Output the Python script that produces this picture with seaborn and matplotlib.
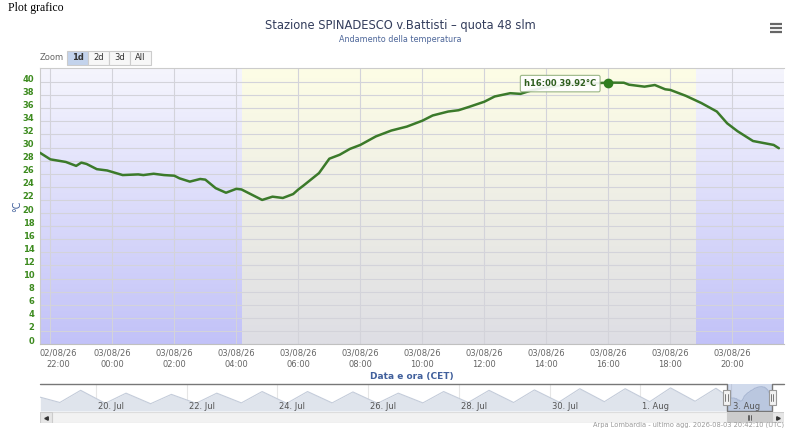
import numpy as np
import pandas as pd
import matplotlib
matplotlib.use("Agg")
import matplotlib.pyplot as plt
import matplotlib.dates as mdates
import matplotlib.colors as mcolors
import matplotlib.transforms as mtrans
from matplotlib.patches import Rectangle
from matplotlib.lines import Line2D
import seaborn as sns

# --- data (CET) ---
times = [
    "2026-08-02 21:40", "2026-08-02 22:00", "2026-08-02 22:30", "2026-08-02 22:50",
    "2026-08-02 23:00", "2026-08-02 23:10", "2026-08-02 23:30", "2026-08-02 23:50",
    "2026-08-03 00:20", "2026-08-03 00:50", "2026-08-03 01:00", "2026-08-03 01:20",
    "2026-08-03 01:40", "2026-08-03 02:00", "2026-08-03 02:10", "2026-08-03 02:30",
    "2026-08-03 02:50", "2026-08-03 03:00", "2026-08-03 03:20", "2026-08-03 03:40",
    "2026-08-03 04:00", "2026-08-03 04:10", "2026-08-03 04:30", "2026-08-03 04:50",
    "2026-08-03 05:10", "2026-08-03 05:30", "2026-08-03 05:50", "2026-08-03 06:00",
    "2026-08-03 06:10", "2026-08-03 06:40", "2026-08-03 07:00", "2026-08-03 07:20",
    "2026-08-03 07:40", "2026-08-03 08:00", "2026-08-03 08:30", "2026-08-03 09:00",
    "2026-08-03 09:30", "2026-08-03 10:00", "2026-08-03 10:20", "2026-08-03 10:50",
    "2026-08-03 11:10", "2026-08-03 11:30", "2026-08-03 12:00", "2026-08-03 12:20",
    "2026-08-03 12:50", "2026-08-03 13:10", "2026-08-03 13:30", "2026-08-03 14:00",
    "2026-08-03 14:30", "2026-08-03 15:00", "2026-08-03 15:30", "2026-08-03 16:00",
    "2026-08-03 16:30", "2026-08-03 16:40", "2026-08-03 17:10", "2026-08-03 17:30",
    "2026-08-03 17:50", "2026-08-03 18:00", "2026-08-03 18:30", "2026-08-03 19:00",
    "2026-08-03 19:30", "2026-08-03 19:50", "2026-08-03 20:10", "2026-08-03 20:40",
    "2026-08-03 21:00", "2026-08-03 21:20", "2026-08-03 21:30",
]
temps = [
    29.2, 28.2, 27.8, 27.2,
    27.7, 27.5, 26.7, 26.5,
    25.8, 25.9, 25.8, 26.0,
    25.8, 25.7, 25.3, 24.8,
    25.2, 25.1, 23.8, 23.1,
    23.7, 23.6, 22.8, 22.0,
    22.5, 22.3, 22.9, 23.6,
    24.2, 26.1, 28.3, 28.9,
    29.8, 30.4, 31.7, 32.6,
    33.2, 34.1, 34.9, 35.5,
    35.7, 36.2, 37.0, 37.8,
    38.3, 38.2, 38.7, 39.2,
    39.5, 39.7, 39.8, 39.92,
    39.9, 39.6, 39.3, 39.55,
    38.9, 38.8, 37.9, 36.8,
    35.5, 33.7, 32.5, 31.0,
    30.7, 30.4, 29.9,
]

# day / night background bands
band_start = ["2026-08-02 21:40", "2026-08-03 04:10", "2026-08-03 18:50"]
band_end = ["2026-08-03 04:10", "2026-08-03 18:50", "2026-08-03 21:40"]
band_kind = ["night", "day", "night"]

# navigator: daily minimum (05:00) and maximum (16:00) of the previous days
nav_start = ("2026-07-18 18:40", 27.0)
nav_days = pd.date_range("2026-07-19", "2026-08-02", freq="D")
nav_min = [20.5, 19.5, 19.0, 19.5, 20.0, 19.5, 20.0, 19.5, 20.0, 20.5, 20.5, 21.0, 21.5, 21.5, 22.0]
nav_max = [35.5, 32.0, 30.5, 32.0, 34.0, 34.0, 33.5, 32.0, 34.0, 35.5, 36.0, 37.5, 37.5, 38.5, 38.0]

title = "Stazione SPINADESCO v.Battisti \u2013 quota 48 slm"
subtitle = "Andamento della temperatura"
credit = "Arpa Lombardia - ultimo agg. 2026-08-03 20:42:10 (UTC)"
zoom_buttons = ["1d", "2d", "3d", "All"]

t = pd.to_datetime(times)
x0, x1 = pd.Timestamp("2026-08-02 21:40"), pd.Timestamp("2026-08-03 21:40")
nav_x0, nav_x1 = pd.Timestamp("2026-07-18 18:30"), pd.Timestamp("2026-08-04 04:00")
YTOP = 42.15

sns.set_style("white")
plt.rcParams["font.family"] = ["DejaVu Sans"]

W, H = 800, 428
fig = plt.figure(figsize=(W / 100, H / 100), dpi=100)


def fx(px):
    return px / W


def fy(py):
    return 1 - py / H


# --- main chart ---
ax = fig.add_axes([fx(40), fy(344), 744 / W, 276 / H])

colors = {"night": ("#f5f5fd", "#c2c2f8"), "day": ("#fdfde6", "#dedee4")}
for s, e, k in zip(band_start, band_end, band_kind):
    c0 = np.array(mcolors.to_rgb(colors[k][0]))
    c1 = np.array(mcolors.to_rgb(colors[k][1]))
    f = np.linspace(0, 1, 128)[:, None]
    img = (c0 * (1 - f) + c1 * f)[:, None, :]
    ax.imshow(img, extent=[mdates.date2num(pd.Timestamp(s)), mdates.date2num(pd.Timestamp(e)), 0, YTOP],
              aspect="auto", origin="upper", zorder=0, interpolation="bilinear")

sns.lineplot(x=t, y=temps, ax=ax, color="#3b7a2a", linewidth=1.8, zorder=3)

ipk = int(np.argmax(temps))
ax.plot(t[ipk], temps[ipk], "o", color="#2f7d1f", ms=6, zorder=5)
ax.annotate(f"h{t[ipk]:%H:%M} {temps[ipk]:.2f}\u00b0C", xy=(t[ipk], temps[ipk]),
            xytext=(-12, -1), textcoords="offset pixels", ha="right", va="center",
            fontsize=6, fontweight="bold", color="#2e5e1e", zorder=6,
            bbox=dict(boxstyle="round,pad=0.45,rounding_size=0.2", fc="white", ec="#8fae7a", lw=0.8, alpha=0.9))

ax.set_xlim(x0, x1)
ax.set_ylim(0, YTOP)
ax.set_yticks(range(0, 41, 2))
ax.set_xticks(pd.date_range("2026-08-02 22:00", "2026-08-03 20:00", freq="2h"))
ax.xaxis.set_major_formatter(mdates.DateFormatter("%d/%m/%y\n%H:%M"))
ax.grid(True, color="#d3d3da", lw=0.8)
ax.set_axisbelow(True)
ax.tick_params(axis="y", length=0, pad=4, labelsize=6, labelcolor="#3d8b1f")
ax.tick_params(axis="x", length=0, pad=3, labelsize=6, labelcolor="#666666")
for lab in ax.get_yticklabels():
    lab.set_fontweight("bold")
    lab.set_transform(lab.get_transform() + mtrans.ScaledTranslation(0, 0.04, fig.dpi_scale_trans))
for lab in ax.get_xticklabels():
    lab.set_linespacing(1.4)
first = ax.get_xticklabels()[0]
first.set_transform(first.get_transform() + mtrans.ScaledTranslation(0.08, 0, fig.dpi_scale_trans))

ax.spines["right"].set_visible(False)
for side in ["top", "left", "bottom"]:
    ax.spines[side].set_color("#cccccc")
    ax.spines[side].set_linewidth(0.8)
ax.spines["bottom"].set_color("#c0c0c0")

ax.set_xlabel("Data e ora (CET)", fontsize=6.5, fontweight="bold", color="#41609c", labelpad=2)
ax.set_ylabel("\u00b0C", fontsize=7, color="#41609c")
ax.yaxis.set_label_coords((22 - 40) / 744, 0.5)

# --- header ---
fig.text(fx(8), fy(8), "Plot grafico", family="Liberation Serif", fontsize=8.5, va="center", ha="left", color="black")
fig.text(0.5, fy(26), title, ha="center", va="center", fontsize=8.3, color="#333d5c")
fig.text(0.5, fy(39), subtitle, ha="center", va="center", fontsize=5.8, color="#4d6699")
for yy in [23.5, 27.5, 31.5]:
    fig.add_artist(Line2D([fx(770), fx(782)], [fy(yy), fy(yy)], color="#666666", lw=1.6,
                          transform=fig.transFigure, solid_capstyle="butt"))

fig.text(fx(40), fy(58), "Zoom", ha="left", va="center", fontsize=6, color="#666666")
bx = 67
for i, lab in enumerate(zoom_buttons):
    fig.add_artist(Rectangle((fx(bx + 21 * i), fy(65)), 21 / W, 14 / H, transform=fig.transFigure,
                             fc="#c3d3ec" if i == 0 else "#f7f7f7", ec="#cccccc", lw=0.8))
    fig.text(fx(bx + 21 * i + 10.5), fy(58), lab, ha="center", va="center", fontsize=6,
             color="#333333", fontweight="bold" if i == 0 else "normal")

# --- navigator ---
nav_t = [pd.Timestamp(nav_start[0])]
nav_v = [nav_start[1]]
for d, lo, hi in zip(nav_days, nav_min, nav_max):
    nav_t += [d + pd.Timedelta(hours=5), d + pd.Timedelta(hours=16)]
    nav_v += [lo, hi]
nav_t += list(t)
nav_v += list(temps)
nav_t = pd.to_datetime(nav_t)

nav = fig.add_axes([fx(40), fy(411), 744 / W, 27 / H])
nav.set_xlim(nav_x0, nav_x1)
nav.set_ylim(10, 43.3)
nav.set_xticks([])
nav.set_yticks([])
for s in nav.spines.values():
    s.set_visible(False)
nav_ticks = pd.date_range("2026-07-20", "2026-08-03", freq="2D")
trans_nav = mtrans.blended_transform_factory(nav.transData, nav.transAxes)
for d in nav_ticks:
    nav.axvline(d, color="#e6e6e6", lw=0.8, zorder=0)
nav.fill_between(nav_t, nav_v, 10, color="#dfe4ec", lw=0, zorder=1)
sns.lineplot(x=nav_t, y=nav_v, ax=nav, color="#c4ccda", linewidth=0.8, zorder=2)
nav.set_xlabel("")
nav.set_ylabel("")
nav.axvspan(x0, x1, color="#6685c2", alpha=0.3, lw=0, zorder=3)
lab_off = mtrans.ScaledTranslation(0.02, 0, fig.dpi_scale_trans)
for d in nav_ticks:
    nav.text(d, 0.15, f"{d.day}. {d:%b}", transform=trans_nav + lab_off, ha="left", va="center",
             fontsize=6, color="#555555", zorder=4)
nav.plot([nav_x0, x0, x0, x1, x1, nav_x1], [1, 1, 0, 0, 1, 1], transform=trans_nav,
         color="#777777", lw=1, clip_on=False, zorder=5)
dpp = (mdates.date2num(nav_x1) - mdates.date2num(nav_x0)) / 744
for xe in [x0, x1]:
    xc = mdates.date2num(xe)
    nav.add_patch(Rectangle((xc - 3.5 * dpp, 0.22), 7 * dpp, 0.56, transform=trans_nav,
                            fc="#f2f2f2", ec="#999999", lw=0.8, zorder=6, clip_on=False))
    for dx in [-1.2, 1.2]:
        nav.plot([xc + dx * dpp] * 2, [0.38, 0.62], transform=trans_nav, color="#666666", lw=0.6, zorder=7)

# --- scrollbar ---
sc = fig.add_axes([fx(40), fy(423), 744 / W, 11 / H])
sc.set_xlim(nav_x0, nav_x1)
sc.set_ylim(0, 1)
sc.axis("off")
sc.add_patch(Rectangle((0, 0), 1, 1, transform=sc.transAxes, fc="#f2f2f2", ec="#dddddd", lw=0.8))
trans_sc = mtrans.blended_transform_factory(sc.transData, sc.transAxes)
xs0, xs1 = mdates.date2num(x0), mdates.date2num(x1)
sc.add_patch(Rectangle((xs0, 0), xs1 - xs0, 1, transform=trans_sc, fc="#cccccc", ec="#cccccc", lw=0.8))
xm = (xs0 + xs1) / 2
for dx in [-1.5, 0, 1.5]:
    sc.plot([xm + dx * dpp] * 2, [0.3, 0.7], transform=trans_sc, color="#333333", lw=0.5)
for side in [0, 1]:
    bx0 = 0 if side == 0 else 1 - 12 / 744
    sc.add_patch(Rectangle((bx0, 0), 12 / 744, 1, transform=sc.transAxes, fc="#e6e6e6", ec="#cccccc", lw=0.8))
    sc.plot(bx0 + 6 / 744, 0.5, marker="<" if side == 0 else ">", ms=2.5, color="#333333",
            transform=sc.transAxes)

fig.text(fx(784), fy(427.5), credit, ha="right", va="bottom", fontsize=4.8, color="#999999")

fig.savefig("out.png", dpi=100)
